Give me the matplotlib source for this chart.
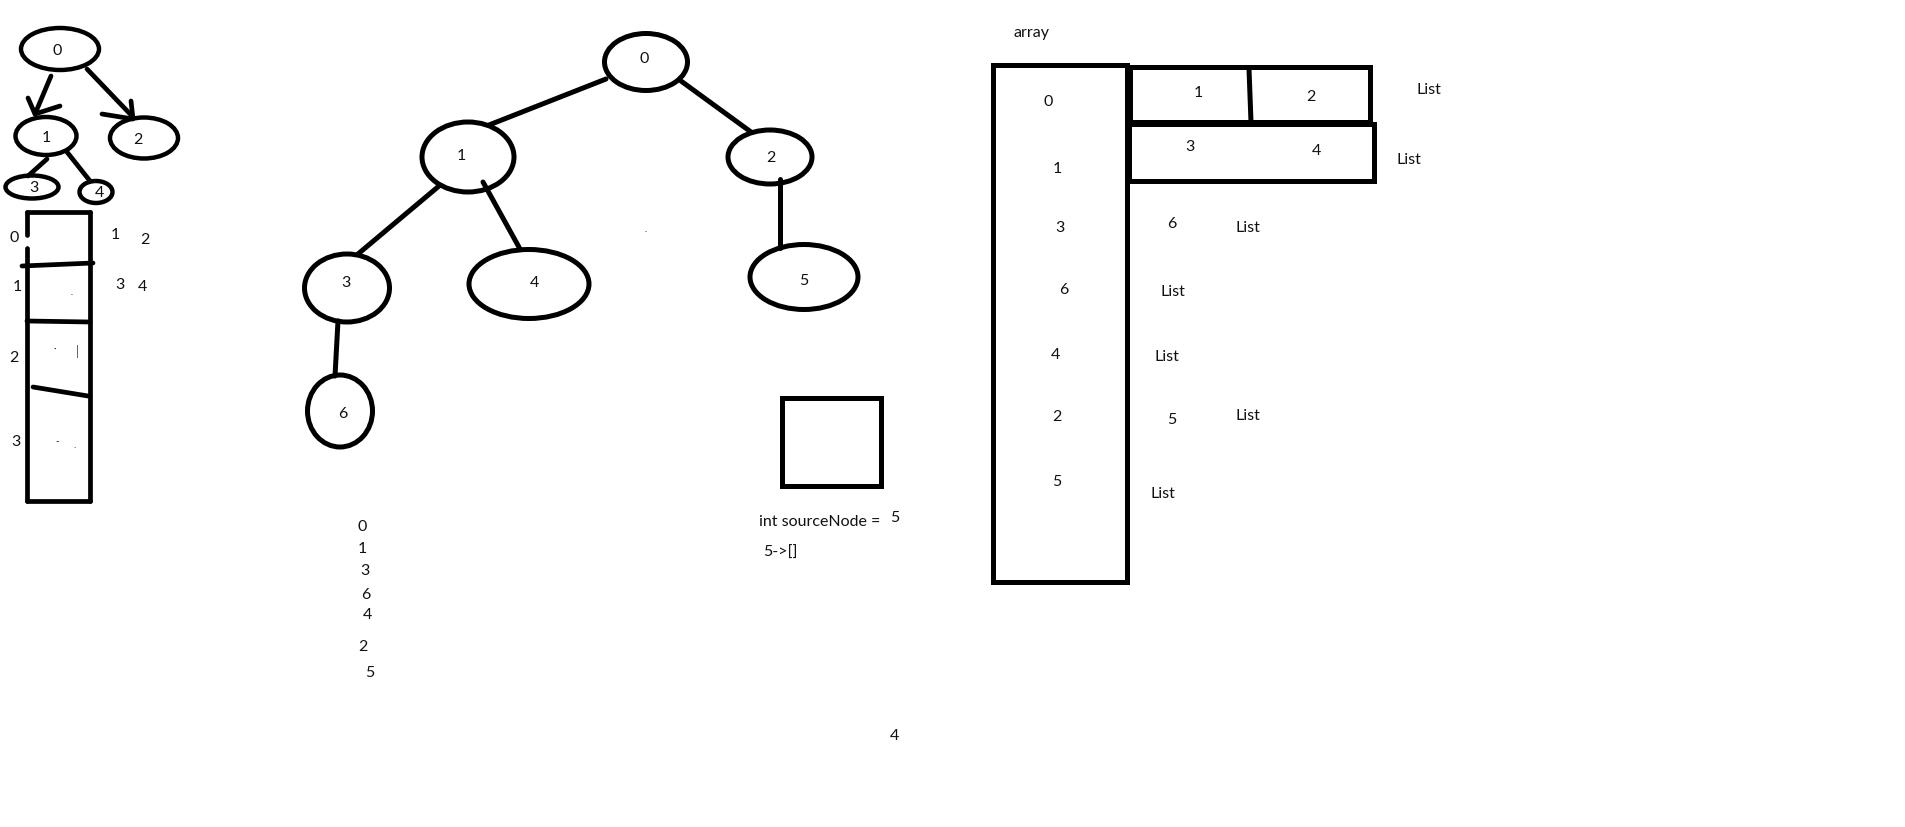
import matplotlib
matplotlib.use("Agg")
import matplotlib.pyplot as plt
from matplotlib.patches import Ellipse, Rectangle

plt.rcParams['font.family'] = ['Lato', 'DejaVu Sans']

# ---- data (labels / values) ----
small_tree_labels = ["0", "1", "2", "3", "4"]
small_slot_labels = ["0", "1", "2", "3"]
small_adj_values = ["1", "2", "3", "4"]

tree_labels = ["0", "1", "2", "3", "4", "5", "6"]
bfs_order = ["0", "1", "3", "6", "4", "2", "5"]

array_values = ["0", "1", "3", "6", "4", "2", "5"]
list_box_values = ["1", "2", "3", "4"]
side_texts = ["List", "List", "6", "List", "List", "List", "5", "List", "List"]

source_caption = "int sourceNode ="
source_value = "5"
queue_text = "5->[]"
stray_value = "4"

# ---- layout (pixel coords of a 1905x828 canvas) ----
small_node_xy = [(60, 50), (46, 137), (144, 139), (32, 188), (96, 193)]
small_node_wh = [(78, 42), (61, 38), (68, 41), (53, 23), (33, 22)]
small_label_xy = [(57, 51), (46, 138), (138, 140), (34, 188), (99, 193)]
small_edges = [[(47, 160), (28, 177)], [(67, 153), (90, 182)]]
small_arrows = [
    [(51, 77), (35, 115), (28, 99), (35, 115), (60, 107)],
    [(87, 70), (133, 118), (102, 115), (133, 120), (131, 102)],
]
small_slot_xy = [(14, 238), (17, 287), (14, 358), (16, 442)]
small_adj_xy = [(115, 235), (145, 240), (120, 285), (142, 287)]
small_dividers = [[(22, 267), (93, 264)], [(27, 322), (90, 323)], [(33, 388), (88, 397)]]

node_xy = [(646, 63), (468, 158), (770, 158), (347, 289), (529, 285), (804, 278), (340, 412)]
node_wh = [(83, 57), (92, 70), (84, 54), (85, 68), (120, 69), (108, 65), (65, 72)]
label_xy = [(644, 59), (461, 156), (771, 158), (346, 283), (534, 283), (804, 281), (343, 414)]
tree_edges = [
    [(606, 80), (489, 126)], [(681, 82), (751, 133)], [(439, 187), (358, 255)],
    [(483, 183), (520, 250)], [(780, 180), (780, 249)], [(338, 322), (335, 377)],
]
bfs_xy = [(362, 527), (362, 549), (365, 571), (366, 595), (367, 615), (363, 647), (370, 673)]

array_xy = [(1048, 102), (1057, 169), (1060, 228), (1064, 290), (1055, 355), (1057, 417), (1057, 482)]
list_box_xy = [(1198, 93), (1311, 97), (1190, 147), (1316, 151)]
side_xy = [(1429, 90), (1409, 160), (1172, 224), (1248, 228), (1173, 292),
           (1167, 357), (1172, 420), (1248, 416), (1163, 494)]

LW = 3.6
FS = 11.5

fig = plt.figure(figsize=(19.05, 8.28), dpi=100)
ax = fig.add_axes([0, 0, 1, 1])
ax.set_xlim(0, 1905)
ax.set_ylim(828, 0)
ax.axis("off")


def seg(pts, lw=LW):
    xs = [p[0] for p in pts]
    ys = [p[1] for p in pts]
    ax.plot(xs, ys, color="black", lw=lw, solid_capstyle="round")


def label(txt, xy, **kw):
    ax.text(xy[0], xy[1], txt, ha=kw.pop("ha", "center"), va="center",
            fontsize=kw.pop("fontsize", FS), color=kw.pop("color", "#111111"), **kw)


# small tree
for (x, y), (w, h) in zip(small_node_xy, small_node_wh):
    ax.add_patch(Ellipse((x, y), w, h, fill=False, lw=3.2, ec="black"))
for t, xy in zip(small_tree_labels, small_label_xy):
    label(t, xy)
for e in small_edges:
    seg(e, 3.4)
for a in small_arrows:
    seg(a[:2], 3.4)
    seg(a[2:], 3.4)

# small adjacency array
seg([(27, 213), (90, 213)], 3.4)
seg([(27, 502), (90, 502)], 3.4)
seg([(90, 213), (90, 502)], 3.4)
seg([(27, 213), (27, 236)], 3.4)
seg([(27, 249), (27, 502)], 3.4)
for d in small_dividers:
    seg(d, 3.4)
for t, xy in zip(small_slot_labels, small_slot_xy):
    label(t, xy)
for t, xy in zip(small_adj_values, small_adj_xy):
    label(t, xy)
label("|", (77, 352), fontsize=9, color="#2c5d6b")
label("·", (55, 349), fontsize=7)
label("-", (57, 442), fontsize=7)
label(".", (75, 446), fontsize=7)
label(".", (72, 293), fontsize=6)

# main tree
for (x, y), (w, h) in zip(node_xy, node_wh):
    ax.add_patch(Ellipse((x, y), w, h, fill=False, lw=LW, ec="black"))
for t, xy in zip(tree_labels, label_xy):
    label(t, xy)
for e in tree_edges:
    seg(e)
label(".", (646, 230), fontsize=6)
for t, xy in zip(bfs_order, bfs_xy):
    label(t, xy)

# source node box and notes
ax.add_patch(Rectangle((782, 399), 99, 88, fill=False, lw=LW, ec="black", joinstyle="miter"))
label(source_caption, (759, 522), ha="left")
label(source_value, (895, 518))
label(queue_text, (763, 553), ha="left")
label(stray_value, (894, 736))

# array of lists
label("array", (1031, 33))
ax.add_patch(Rectangle((993, 66), 134, 517, fill=False, lw=LW, ec="black", joinstyle="miter"))
ax.add_patch(Rectangle((1130, 68), 240, 55, fill=False, lw=LW, ec="black", joinstyle="miter"))
ax.add_patch(Rectangle((1129, 125), 245, 57, fill=False, lw=LW, ec="black", joinstyle="miter"))
seg([(1249, 70), (1251, 123)])
for t, xy in zip(array_values, array_xy):
    label(t, xy)
for t, xy in zip(list_box_values, list_box_xy):
    label(t, xy)
for t, xy in zip(side_texts, side_xy):
    label(t, xy)

fig.savefig("out.png", dpi=100, facecolor="white")
